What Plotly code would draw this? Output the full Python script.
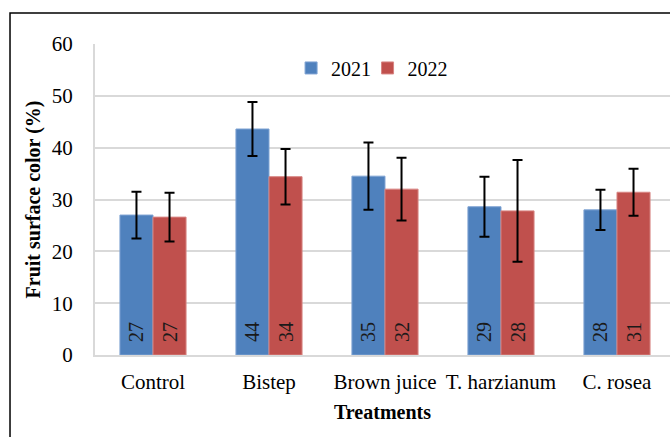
import plotly.graph_objects as go

categories = ["Control", "Bistep", "Brown juice", "T. harzianum", "C. rosea"]
vals_2021 = [27.0, 43.6, 34.5, 28.6, 28.0]
vals_2022 = [26.6, 34.4, 32.0, 27.8, 31.4]
err_2021 = [4.5, 5.2, 6.5, 5.8, 3.9]
err_2022 = [4.7, 5.35, 6.05, 9.8, 4.55]
labels_2021 = ["27", "44", "35", "29", "28"]
labels_2022 = ["27", "34", "32", "28", "31"]
y_ticks = [0, 10, 20, 30, 40, 50, 60]

FONT = "Liberation Serif"
NBSP = "\u00a0\u00a0"

fig = go.Figure()
for name, vals, errs, labs, col, lcol, lg in [
    ("2021", vals_2021, err_2021, labels_2021, "#4F81BD", "#7FA3D3", "legend"),
    ("2022", vals_2022, err_2022, labels_2022, "#C0504D", "#D88583", "legend2"),
]:
    fig.add_trace(go.Bar(
        name=name, x=categories, y=vals, legend=lg,
        marker=dict(color=col, line=dict(color=lcol, width=1)),
        error_y=dict(type="data", array=errs, visible=True, color="black", thickness=2, width=5),
        text=[NBSP + t for t in labs], textposition="inside", insidetextanchor="start", textangle=-90,
        insidetextfont=dict(family=FONT, size=20, color="#1a1a1a"),
        constraintext="none",
        cliponaxis=False,
        hoverinfo="skip",
    ))

leg_common = dict(orientation="h", xanchor="left", y=0.923, yanchor="middle",
                  font=dict(family=FONT, size=20, color="black"), itemwidth=30,
                  bgcolor="rgba(0,0,0,0)")

fig.update_layout(
    template="none",
    width=670, height=437,
    margin=dict(l=95, r=0, t=44, b=82),
    paper_bgcolor="white", plot_bgcolor="white",
    barmode="group", bargap=0.43, bargroupgap=0,
    font=dict(family=FONT, size=20, color="black"),
    showlegend=True,
    legend=dict(x=0.341, **leg_common),
    legend2=dict(x=0.474, **leg_common),
    xaxis=dict(range=[-0.5, 4.457], showgrid=False, showline=True, linecolor="#d9d9d9", linewidth=2,
               ticks="", ticklabelstandoff=7, tickfont=dict(family=FONT, size=21, color="black"),
               title=dict(text="<b>Treatments</b>", font=dict(family=FONT, size=20, color="black"), standoff=12)),
    yaxis=dict(range=[0, 60], tickvals=y_ticks, showgrid=True, gridcolor="#d9d9d9", gridwidth=2,
               showline=True, linecolor="#d9d9d9", linewidth=2, zeroline=False, ticks="",
               ticklabelstandoff=16, tickfont=dict(family=FONT, size=21, color="black"),
               title=dict(text="<b>Fruit surface color (%)</b>", font=dict(family=FONT, size=20, color="black"), standoff=6)),
    shapes=[dict(type="rect", xref="paper", yref="paper", x0=-0.1478, x1=1.1, y0=-0.5, y1=1.0997,
                 line=dict(color="black", width=1.5), fillcolor="rgba(0,0,0,0)", layer="below")],
)

fig.write_html("out.html", config={"displayModeBar": False},
               post_script="document.body.style.margin='0';document.body.style.overflow='hidden';")
